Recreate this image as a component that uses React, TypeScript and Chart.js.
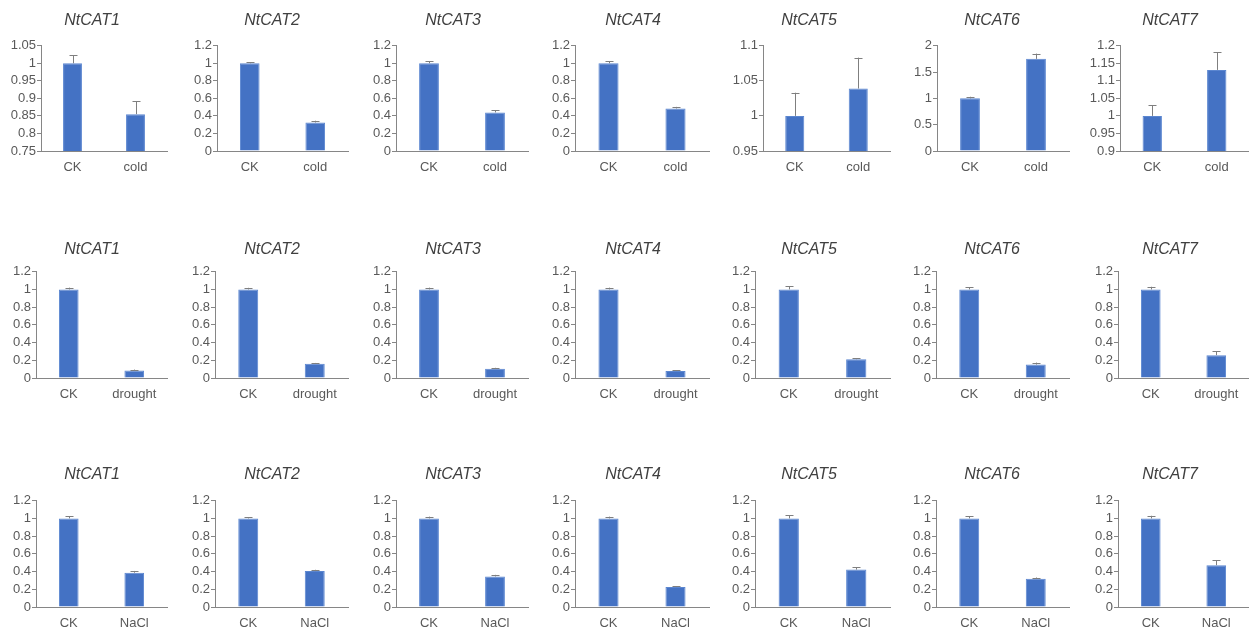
import React, { useEffect, useRef } from "react";
import { Chart, registerables } from "chart.js";

Chart.register(...registerables);

// ---------- data ----------
const genes = ["NtCAT1", "NtCAT2", "NtCAT3", "NtCAT4", "NtCAT5", "NtCAT6", "NtCAT7"];
const controlLabel = "CK";
const treatments = ["cold", "drought", "NaCl"];

// cold row
const ckColdMeans = [1, 1, 1, 1, 1, 1, 1];
const ckColdErr = [0.023, 0.012, 0.022, 0.02, 0.033, 0.03, 0.03];
const coldMeans = [0.855, 0.325, 0.44, 0.485, 1.039, 1.75, 1.131];
const coldErr = [0.037, 0.02, 0.022, 0.018, 0.044, 0.1, 0.05];
const coldYMin = [0.75, 0, 0, 0, 0.95, 0, 0.9];
const coldYMax = [1.05, 1.2, 1.2, 1.2, 1.1, 2, 1.2];
const coldYStep = [0.05, 0.2, 0.2, 0.2, 0.05, 0.5, 0.05];

// drought row
const ckDroughtMeans = [1, 1, 1, 1, 1, 1, 1];
const ckDroughtErr = [0.02, 0.018, 0.02, 0.02, 0.035, 0.025, 0.03];
const droughtMeans = [0.085, 0.16, 0.105, 0.078, 0.212, 0.152, 0.258];
const droughtErr = [0.01, 0.01, 0.01, 0.008, 0.012, 0.022, 0.045];
const droughtYMin = [0, 0, 0, 0, 0, 0, 0];
const droughtYMax = [1.2, 1.2, 1.2, 1.2, 1.2, 1.2, 1.2];
const droughtYStep = [0.2, 0.2, 0.2, 0.2, 0.2, 0.2, 0.2];

// NaCl row
const ckNaClMeans = [1, 1, 1, 1, 1, 1, 1];
const ckNaClErr = [0.025, 0.015, 0.02, 0.02, 0.035, 0.025, 0.03];
const naclMeans = [0.387, 0.405, 0.345, 0.225, 0.422, 0.318, 0.472];
const naclErr = [0.02, 0.015, 0.018, 0.008, 0.025, 0.015, 0.055];
const naclYMin = [0, 0, 0, 0, 0, 0, 0];
const naclYMax = [1.2, 1.2, 1.2, 1.2, 1.2, 1.2, 1.2];
const naclYStep = [0.2, 0.2, 0.2, 0.2, 0.2, 0.2, 0.2];

const rowsData = [
  { treatment: treatments[0], ck: ckColdMeans, ckErr: ckColdErr, tr: coldMeans, trErr: coldErr, yMin: coldYMin, yMax: coldYMax, yStep: coldYStep },
  { treatment: treatments[1], ck: ckDroughtMeans, ckErr: ckDroughtErr, tr: droughtMeans, trErr: droughtErr, yMin: droughtYMin, yMax: droughtYMax, yStep: droughtYStep },
  { treatment: treatments[2], ck: ckNaClMeans, ckErr: ckNaClErr, tr: naclMeans, trErr: naclErr, yMin: naclYMin, yMax: naclYMax, yStep: naclYStep },
];

// ---------- layout ----------
const ROW_TOP = [0, 225, 450];
const TITLE_Y = [20.7, 250, 475];
const PLOT_TOP = [45.7, 271.7, 500.7];
const PLOT_BOTTOM = [151, 377.7, 606.7];
const TITLE_X = [92, 272, 453, 633, 809, 992, 1170];
const PLOT_LEFT = [
  [41, 217, 396, 575, 763, 937, 1120],
  [36, 215, 396, 575, 755, 936, 1118],
  [36, 215, 396, 575, 755, 936, 1118],
];
const PLOT_RIGHT = [167, 348, 528, 709, 890, 1069, 1249];
const FRAME_W = 180;
const X_AXIS_H = 26;

const BAR_COLOR = "#4472C4";
const AXIS_COLOR = "#868686";
const TEXT_COLOR = "#595959";
const TITLE_COLOR = "#404040";
const ERR_COLOR = "#7f7f7f";
const FONT = '"Liberation Sans", Arial, sans-serif';

function fmt(v: number) {
  return String(parseFloat(Number(v).toFixed(3)));
}

function Panel({ row, col }: { row: number; col: number }) {
  const ref = useRef<HTMLCanvasElement | null>(null);
  const d = rowsData[row];
  const frameLeft = TITLE_X[col] - FRAME_W / 2;
  const top = ROW_TOP[row];
  const height = Math.round(PLOT_BOTTOM[row] - top + X_AXIS_H);
  const yAxisW = PLOT_LEFT[row][col] - frameLeft;
  const padRight = frameLeft + FRAME_W - PLOT_RIGHT[col];

  useEffect(() => {
    const canvas = ref.current!;
    const means = [d.ck[col], d.tr[col]];
    const errs = [d.ckErr[col], d.trErr[col]];
    const title = genes[col];

    const errorBars = {
      id: "errorBars",
      afterDatasetsDraw(chart: any) {
        const meta = chart.getDatasetMeta(0);
        const ys = chart.scales.y;
        const ctx = chart.ctx;
        ctx.save();
        ctx.strokeStyle = ERR_COLOR;
        ctx.lineWidth = 1;
        meta.data.forEach((bar: any, i: number) => {
          const x = Math.round(bar.x) + 0.5;
          const y0 = ys.getPixelForValue(means[i]);
          const y1 = ys.getPixelForValue(means[i] + errs[i]);
          ctx.beginPath();
          ctx.moveTo(x, y0);
          ctx.lineTo(x, y1);
          ctx.moveTo(x - 4, Math.round(y1) + 0.5);
          ctx.lineTo(x + 4, Math.round(y1) + 0.5);
          ctx.stroke();
        });
        ctx.restore();
      },
    };

    const panelTitle = {
      id: "panelTitle",
      afterDraw(chart: any) {
        const ctx = chart.ctx;
        ctx.save();
        ctx.font = `italic 16px ${FONT}`;
        ctx.fillStyle = TITLE_COLOR;
        ctx.textAlign = "center";
        ctx.textBaseline = "middle";
        ctx.fillText(title, FRAME_W / 2, TITLE_Y[row] - top);
        ctx.restore();
      },
    };

    const chart = new Chart(canvas, {
      type: "bar",
      data: {
        labels: [controlLabel, d.treatment],
        datasets: [
          {
            data: means,
            backgroundColor: BAR_COLOR,
            borderColor: "#5b86d0",
            borderWidth: 1,
            barPercentage: 0.3,
            categoryPercentage: 1,
          },
        ],
      },
      options: {
        animation: false,
        responsive: false,
        devicePixelRatio: 1,
        layout: { padding: { top: PLOT_TOP[row] - top, right: padRight, left: 0, bottom: 0 } },
        plugins: { legend: { display: false }, tooltip: { enabled: false }, title: { display: false } },
        scales: {
          x: {
            z: 1,
            grid: { display: false, drawTicks: false },
            border: { display: true, color: AXIS_COLOR, width: 1 },
            ticks: { color: TEXT_COLOR, font: { family: FONT, size: 13 }, padding: 9, maxRotation: 0, autoSkip: false },
            afterFit: (s: any) => {
              s.height = X_AXIS_H;
            },
          },
          y: {
            min: d.yMin[col],
            max: d.yMax[col],
            grid: { display: true, drawOnChartArea: false, drawTicks: true, tickLength: 4, color: AXIS_COLOR },
            border: { display: true, color: AXIS_COLOR, width: 1 },
            ticks: {
              stepSize: d.yStep[col],
              autoSkip: false,
              color: TEXT_COLOR,
              font: { family: FONT, size: 13 },
              padding: 1,
              callback: (v: any) => fmt(v),
            },
            afterFit: (s: any) => {
              s.width = yAxisW;
            },
          },
        },
      },
      plugins: [errorBars, panelTitle],
    });
    return () => chart.destroy();
  }, [row, col]);

  return (
    <canvas
      ref={ref}
      width={FRAME_W}
      height={height}
      style={{ position: "absolute", left: frameLeft, top, width: FRAME_W, height }}
    />
  );
}

export default function App() {
  const panels: any[] = [];
  for (let r = 0; r < 3; r++) {
    for (let c = 0; c < 7; c++) {
      panels.push(<Panel key={`${r}-${c}`} row={r} col={c} />);
    }
  }
  return (
    <div
      style={{
        position: "absolute",
        left: 0,
        top: 0,
        width: 1249,
        height: 630,
        overflow: "hidden",
        background: "#ffffff",
      }}
    >
      {panels}
    </div>
  );
}
